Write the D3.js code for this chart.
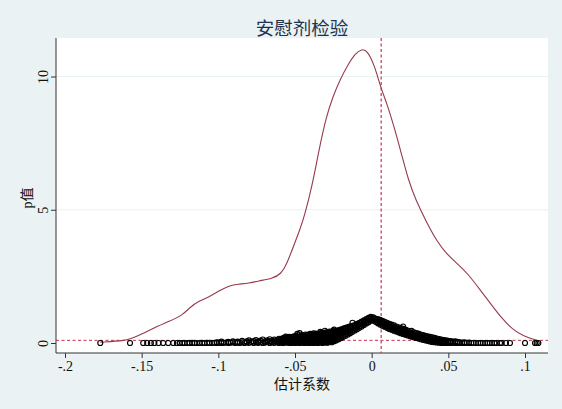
<!DOCTYPE html>
<html><head><meta charset="utf-8">
<script src="https://cdn.jsdelivr.net/npm/d3@7/dist/d3.min.js"></script>
<style>html,body{margin:0;padding:0;background:#EAF2F3;}svg{display:block;}</style>
</head><body>
<script>
const titleText = "安慰剂检验";
const xLabelText = "估计系数";
const yLabelText = "p值";
const xTicks = [-0.2, -0.15, -0.1, -0.05, 0, 0.05, 0.1];
const xTickLabels = ["-.2", "-.15", "-.1", "-.05", "0", ".05", ".1"];
const yTicks = [0, 5, 10];
const yTickLabels = ["0", "5", "10"];
const trueCoef = 0.0062;
const pThreshold = 0.1;

// kernel density of placebo coefficients
const densX = [-0.177,-0.1606,-0.158,-0.149,-0.1396,-0.1325,-0.1232,-0.1185,-0.1127,-0.1057,-0.0998,-0.0928,-0.087,-0.080,-0.0741,-0.0648,-0.0589,-0.0555,-0.0515,-0.0465,-0.0437,-0.039,-0.0344,-0.0297,-0.025,-0.0204,-0.0157,-0.011,-0.0063,-0.0028,0.0019,0.0058,0.010,0.0147,0.0194,0.024,0.0288,0.0357,0.0428,0.0486,0.0556,0.0626,0.0708,0.0778,0.0848,0.0918,0.0989,0.1082];
const densY = [0.03,0.09,0.14,0.36,0.64,0.80,1.05,1.34,1.58,1.73,1.95,2.16,2.21,2.24,2.33,2.41,2.6,2.95,3.55,4.3,4.8,5.85,7.23,8.48,9.29,9.91,10.41,10.85,11.04,10.97,10.41,9.6,8.98,8.1,7.1,6.1,5.36,4.54,3.79,3.36,2.99,2.61,1.99,1.46,0.93,0.51,0.26,0.09];

// placebo estimates: [coefficient, list of p-values observed at that coefficient]
const scatterCols = [
[-0.177,[0]],[-0.1576,[0]],[-0.149,[0]],[-0.1464,[0]],[-0.144,[0]],[-0.1417,[0]],[-0.139,[0]],[-0.136,[0]],[-0.1327,[0]],[-0.1294,[0]],[-0.127,[0]],[-0.1252,[0]],[-0.1235,[0]],[-0.122,[0.001]],[-0.1203,[0]],[-0.1188,[0]],[-0.117,[0.002]],[-0.1155,[0]],[-0.114,[0.001]],[-0.1122,[0]],[-0.1105,[0.003]],[-0.109,[0]],[-0.1073,[0.002]],[-0.1058,[0.005]],[-0.104,[0]],[-0.1025,[0.008]],[-0.101,[0.002,0.03]],[-0.0995,[0.012]],[-0.098,[0,0.05]],[-0.0965,[0.006]],[-0.095,[0.02]],[-0.0935,[0,0.04]],[-0.092,[0.01]],[-0.0905,[0.03,0.06]],[-0.089,[0]],[-0.0875,[0.015,0.05]],[-0.086,[0.004]],[-0.0845,[0.03,0.08]],[-0.083,[0]],[-0.0815,[0.02,0.06]],[-0.08,[0.005,0.1]],[-0.0785,[0.04]],[-0.077,[0,0.07]],[-0.0755,[0.02,0.11]],[-0.074,[0.005,0.05]],[-0.0725,[0.03,0.09]],[-0.071,[0,0.13]],[-0.0695,[0.015,0.06]],[-0.068,[0.04,0.1]],[-0.0665,[0,0.07,0.14]],[-0.065,[0.02,0.05]],[-0.0635,[0.005,0.09,0.13]],[-0.062,[0.03,0.07]],[-0.0605,[0,0.11,0.16]],
[-0.0598,[0.04,0.08,0.12]],[-0.059,[0.02,0.06,0.14]],[-0.0582,[0.01,0.1,0.18]],[-0.0575,[0,0.09,0.17]],[-0.0568,[0.03,0.07,0.13,0.2]],[-0.056,[0.04,0.12,0.24]],[-0.0552,[0.02,0.09,0.17]],[-0.0545,[0.01,0.07,0.15,0.2]],[-0.0538,[0.04,0.11,0.23]],[-0.053,[0,0.05,0.1,0.18]],[-0.0522,[0.02,0.08,0.14,0.21]],[-0.0515,[0.03,0.13,0.18]],[-0.0508,[0.01,0.06,0.1,0.25]],[-0.05,[0,0.08,0.16,0.22]],[-0.0492,[0.04,0.12,0.19,0.27]],[-0.0485,[0.02,0.11,0.34]],[-0.0478,[0.01,0.07,0.15,0.23,0.29]],[-0.047,[0,0.06,0.14,0.2,0.37]],[-0.0462,[0.03,0.09,0.17,0.25]],[-0.0455,[0.04,0.1,0.18,0.3]],[-0.0448,[0.01,0.13,0.21,0.27]],[-0.044,[0,0.07,0.15,0.23]],[-0.0432,[0.03,0.1,0.18,0.26,0.32]],[-0.0425,[0.02,0.12,0.2,0.29]],[-0.0418,[0.01,0.07,0.14,0.23,0.31]],[-0.041,[0,0.05,0.17,0.25]],[-0.0402,[0.02,0.09,0.13,0.2,0.28,0.34]],[-0.0395,[0.03,0.1,0.22,0.3]],[-0.0388,[0.01,0.06,0.12,0.18,0.25,0.32]],[-0.038,[0,0.08,0.15,0.26,0.36]],[-0.0372,[0.03,0.1,0.17,0.23,0.3]],[-0.0365,[0.02,0.12,0.2,0.28,0.35]],[-0.0358,[0.01,0.07,0.14,0.21,0.27,0.33]],[-0.035,[0,0.06,0.17,0.25,0.31]],[-0.0342,[0.03,0.11,0.19,0.27,0.35]],[-0.0335,[0.04,0.1,0.22,0.3,0.42]],[-0.0328,[0.02,0.07,0.14,0.2,0.26,0.33,0.38]],[-0.032,[0,0.08,0.15,0.27,0.35]],[-0.0312,[0.04,0.11,0.18,0.23,0.3,0.37]],[-0.0305,[0.02,0.12,0.2,0.31,0.46]],[-0.0298,[0.05,0.09,0.15,0.22,0.28,0.36,0.4]],[-0.029,[0.01,0.06,0.17,0.25,0.34]],[-0.0282,[0.03,0.08,0.13,0.2,0.27,0.33,0.39]],[-0.0275,[0.04,0.1,0.22,0.3,0.36,0.43]],[-0.0268,[0.06,0.12,0.18,0.24,0.32,0.4]],[-0.026,[0.03,0.08,0.15,0.27,0.36,0.42]],[-0.0252,[0.09,0.14,0.2,0.26,0.34,0.41,0.46]],[-0.0245,[0.07,0.12,0.2,0.31,0.4,0.5]],[-0.0238,[0.12,0.18,0.23,0.29,0.37,0.43]],[-0.023,[0.1,0.17,0.25,0.35,0.44]],[-0.0222,[0.15,0.2,0.27,0.33,0.41,0.47]],[-0.0215,[0.14,0.22,0.3,0.39,0.46]],[-0.0208,[0.18,0.24,0.31,0.37,0.44,0.49]],[-0.02,[0.19,0.27,0.34,0.42,0.5]],[-0.0185,[0.23,0.31,0.39,0.47,0.54]],[-0.017,[0.27,0.35,0.43,0.51,0.57]],[-0.0155,[0.32,0.4,0.48,0.55,0.6]],[-0.014,[0.37,0.45,0.52,0.59,0.63]],[-0.0125,[0.42,0.5,0.57,0.64,0.76]],[-0.011,[0.47,0.55,0.61,0.67]],[-0.0095,[0.52,0.6,0.66,0.72]],[-0.008,[0.57,0.64,0.7,0.76]],[-0.0065,[0.62,0.69,0.75,0.8]],[-0.005,[0.68,0.74,0.8,0.85]],[-0.0035,[0.73,0.79,0.85,0.9]],[-0.002,[0.78,0.84,0.9,0.94]],[-0.0005,[0.84,0.9,0.95,0.98]],
[0.001,[0.84,0.9,0.96]],[0.0025,[0.8,0.86,0.92]],[0.004,[0.74,0.8,0.86,0.9]],[0.0055,[0.69,0.75,0.81,0.87]],[0.007,[0.65,0.71,0.77,0.83]],[0.0085,[0.61,0.67,0.73,0.79]],[0.01,[0.57,0.63,0.69,0.76]],[0.0115,[0.53,0.59,0.65,0.72]],[0.013,[0.5,0.56,0.62,0.69]],[0.0145,[0.46,0.52,0.58,0.66]],[0.016,[0.43,0.49,0.55,0.62]],[0.0175,[0.4,0.46,0.52,0.59]],[0.019,[0.37,0.43,0.49,0.56]],[0.0205,[0.34,0.4,0.46,0.53,0.62]],[0.022,[0.31,0.37,0.43,0.5]],[0.0235,[0.28,0.34,0.4,0.47]],[0.025,[0.26,0.31,0.37,0.44]],[0.026,[0.24,0.3,0.36,0.46]],[0.0275,[0.22,0.27,0.33,0.4]],[0.029,[0.19,0.25,0.31,0.37]],[0.0305,[0.17,0.22,0.28,0.35]],[0.032,[0.14,0.2,0.26,0.32]],[0.0335,[0.12,0.18,0.24,0.3]],[0.035,[0.1,0.15,0.21,0.27]],[0.0365,[0.08,0.13,0.19,0.25]],[0.038,[0.06,0.11,0.17,0.23]],[0.0395,[0.04,0.09,0.15,0.21]],[0.041,[0.03,0.08,0.13,0.19]],[0.0425,[0.02,0.06,0.11,0.17]],[0.044,[0.01,0.05,0.1,0.15]],[0.0455,[0,0.04,0.08,0.13]],[0.047,[0,0.03,0.07,0.11]],[0.0485,[0,0.02,0.06,0.1]],[0.05,[0,0.04,0.08]],[0.0515,[0,0.03,0.07]],[0.053,[0.01,0.05]],[0.0545,[0,0.03,0.06]],[0.056,[0,0.04]],[0.0575,[0.01,0.03]],[0.059,[0,0.02]],[0.0605,[0,0.03]],[0.062,[0.01]],[0.0635,[0,0.02]],[0.065,[0]],[0.0665,[0.01]],[0.068,[0]],[0.0695,[0]],[0.071,[0]],[0.0725,[0]],[0.074,[0]],[0.0755,[0]],[0.077,[0]],[0.0785,[0]],[0.08,[0]],[0.0815,[0]],[0.0837,[0]],[0.0848,[0]],[0.0876,[0]],[0.0902,[0]],[0.1,[0]],[0.1065,[0]],[0.1076,[0]],[0.1087,[0]]
];

const W = 562, H = 409;
const plot = {left: 56, right: 548, top: 38, bottom: 353};
const x = d3.scaleLinear().domain([-0.2, 0.1]).range([65, 525]);
const y = d3.scaleLinear().domain([0, 10]).range([343, 76.5]);

const svg = d3.select("body").append("svg").attr("width", W).attr("height", H);
svg.append("rect").attr("width", W).attr("height", H).attr("fill", "#EAF2F3");
svg.append("rect").attr("x", plot.left).attr("y", plot.top)
  .attr("width", plot.right - plot.left).attr("height", plot.bottom - plot.top).attr("fill", "#ffffff");

// grid
svg.append("g").selectAll("line").data(yTicks.filter(d => d !== 0)).join("line")
  .attr("x1", plot.left).attr("x2", plot.right)
  .attr("y1", d => y(d)).attr("y2", d => y(d))
  .attr("stroke", "#EAF2F3").attr("stroke-width", 1.2);

const serif = "'Liberation Serif','Times New Roman',serif";
const cjk = "'Liberation Serif','Noto Sans CJK SC',sans-serif";

// axes
const xAxis = d3.axisBottom(x).tickValues(xTicks).tickFormat((d, i) => xTickLabels[i]).tickSizeOuter(0).tickSize(5).tickPadding(3);
const gx = svg.append("g").attr("transform", `translate(0,${plot.bottom})`).call(xAxis);
gx.select(".domain").remove();
gx.selectAll("line").attr("stroke", "#333");
gx.selectAll("text").attr("font-family", serif).attr("font-size", 14).attr("fill", "#111");
svg.append("line").attr("x1", plot.left).attr("x2", plot.right).attr("y1", plot.bottom).attr("y2", plot.bottom).attr("stroke", "#333");

const yAxis = d3.axisLeft(y).tickValues(yTicks).tickFormat((d, i) => yTickLabels[i]).tickSizeOuter(0).tickSize(5);
const gy = svg.append("g").attr("transform", `translate(${plot.left},0)`).call(yAxis);
gy.select(".domain").remove();
gy.selectAll("line").attr("stroke", "#333");
gy.selectAll("text").attr("font-family", serif).attr("font-size", 14).attr("fill", "#111")
  .attr("x", null).attr("dy", null).attr("text-anchor", "middle")
  .attr("transform", "translate(-13,0) rotate(-90)").attr("dominant-baseline", "central");
svg.append("line").attr("x1", plot.left).attr("x2", plot.left).attr("y1", plot.top).attr("y2", plot.bottom).attr("stroke", "#333");

// reference lines
svg.append("line").attr("x1", plot.left).attr("x2", plot.right)
  .attr("y1", y(pThreshold)).attr("y2", y(pThreshold))
  .attr("stroke", "#c8304f").attr("stroke-width", 1).attr("stroke-dasharray", "3,2.5");
svg.append("line").attr("x1", x(trueCoef)).attr("x2", x(trueCoef))
  .attr("y1", plot.top).attr("y2", plot.bottom)
  .attr("stroke", "#c8304f").attr("stroke-width", 1.2).attr("stroke-dasharray", "3,2.5");

// density
const dens = densX.map((d, i) => [d, densY[i]]);
svg.append("path").datum(dens)
  .attr("d", d3.line().x(d => x(d[0])).y(d => y(d[1])).curve(d3.curveBasis))
  .attr("fill", "none").attr("stroke", "#953a4b").attr("stroke-width", 1.1);

// scatter
const pts = scatterCols.flatMap(([c, ps]) => ps.map(p => [c, p]));
svg.append("g").selectAll("circle").data(pts).join("circle")
  .attr("cx", d => x(d[0])).attr("cy", d => y(d[1])).attr("r", 2.5)
  .attr("fill", "none").attr("stroke", "#000").attr("stroke-width", 1.15);

// titles
svg.append("text").attr("x", (plot.left + plot.right) / 2).attr("y", 27)
  .attr("text-anchor", "middle").attr("dominant-baseline", "central")
  .attr("font-family", "'Noto Sans CJK SC',sans-serif").attr("font-size", 18.5).attr("fill", "#1e3352")
  .text(titleText);
svg.append("text").attr("x", (plot.left + plot.right) / 2).attr("y", 384)
  .attr("text-anchor", "middle").attr("dominant-baseline", "central")
  .attr("font-family", cjk).attr("font-size", 14).attr("fill", "#111")
  .text(xLabelText);
svg.append("text").attr("transform", `translate(27,198) rotate(-90)`)
  .attr("text-anchor", "middle").attr("dominant-baseline", "central")
  .attr("font-family", cjk).attr("font-size", 14).attr("fill", "#111")
  .text(yLabelText);
</script>
</body></html>
